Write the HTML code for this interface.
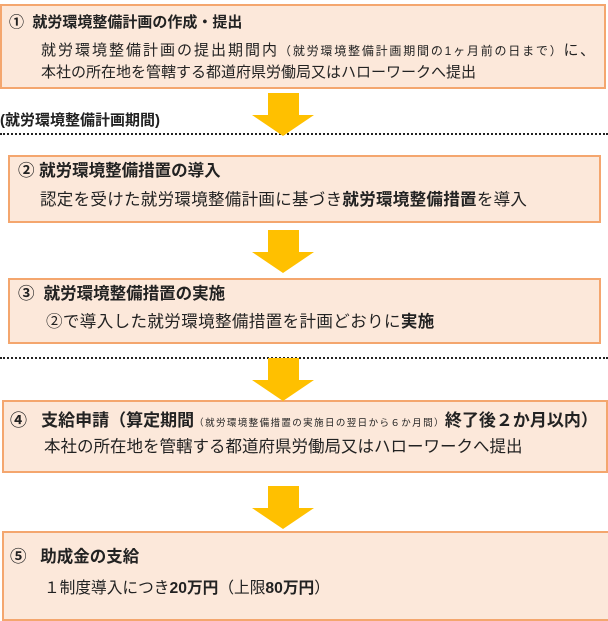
<!DOCTYPE html>
<html><head><meta charset="utf-8"><style>
body{margin:0;width:608px;height:616px;background:#fff;position:relative;overflow:hidden;font-family:"Liberation Sans","Noto Sans CJK JP",sans-serif;color:#222;}
.box{position:absolute;background:#fce8da;border:2px solid #f4a66e;box-sizing:border-box;}
.t{position:absolute;font-size:15px;white-space:nowrap;line-height:18px;}
.b{font-weight:bold;}
.h{font-size:16.5px;}
.m{font-size:16.5px;}
.dot{position:absolute;left:0;width:608px;border-top:2px dotted #222;}
svg{position:absolute;}
</style></head><body>
<div class="box" style="left:0;top:4px;width:606px;height:85px"></div>
<div class="t b" style="left:9px;top:14px">①&nbsp;&nbsp;就労環境整備計画の作成・提出</div>
<div class="t" style="left:41px;top:42px"><span style="letter-spacing:2px">就労環境整備計画の提出期間内</span><span style="font-size:12px;letter-spacing:1.8px">（就労環境整備計画期間の1ヶ月前の日まで）</span><span style="letter-spacing:2px">に、</span></div>
<div class="t" style="left:41px;top:64px">本社の所在地を管轄する都道府県労働局又はハローワークへ提出</div>

<div class="t b" style="left:0;top:112px">(就労環境整備計画期間)</div>
<div class="dot" style="top:133px"></div>

<div class="box" style="left:8px;top:155px;width:593px;height:68px"></div>
<div class="t b h" style="left:18px;top:162px">② 就労環境整備措置の導入</div>
<div class="t m" style="left:40px;top:191px;letter-spacing:0.3px">認定を受けた就労環境整備計画に基づき<b>就労環境整備措置</b>を導入</div>

<div class="box" style="left:8px;top:278px;width:593px;height:66px"></div>
<div class="t b h" style="left:18px;top:285px">③&nbsp;&nbsp;就労環境整備措置の実施</div>
<div class="t m" style="left:46px;top:313px;letter-spacing:0.4px">②で導入した就労環境整備措置を計画どおりに<b>実施</b></div>

<div class="dot" style="top:357px"></div>

<div class="box" style="left:2px;top:400px;width:606px;height:73px"></div>
<div class="t b" style="left:10px;top:412px;font-size:17px">④&nbsp;&nbsp;&nbsp;支給申請（算定期間<span style="font-size:9.5px;font-weight:normal;letter-spacing:1.4px">（就労環境整備措置の実施日の翌日から６か月間）</span>終了後２か月以内）</div>
<div class="t m" style="left:44px;top:438px">本社の所在地を管轄する都道府県労働局又はハローワークへ提出</div>

<div class="box" style="left:2px;top:531px;width:608px;height:90px"></div>
<div class="t b h" style="left:10px;top:548px">⑤&nbsp;&nbsp;&nbsp;助成金の支給</div>
<div class="t" style="left:44px;top:580px;font-size:15.7px">１制度導入につき<b>20万円</b>（上限<b>80万円</b>）</div>

<svg width="608" height="616" style="left:0;top:0">
<g fill="#ffc000">
<polygon points="268,93 299,93 299,115 314,115 283,136 252,115 268,115"/>
<polygon points="268,230 299,230 299,252 314,252 283,273 252,252 268,252"/>
<polygon points="268,358 299,358 299,380 314,380 283,401 252,380 268,380"/>
<polygon points="268,486 299,486 299,508 314,508 283,529 252,508 268,508"/>
</g>
</svg>
</body></html>
